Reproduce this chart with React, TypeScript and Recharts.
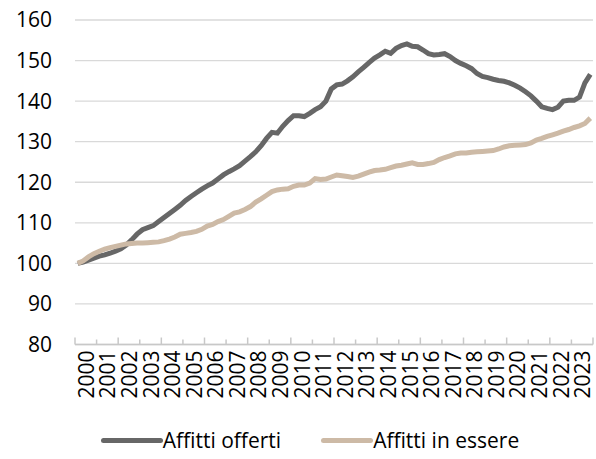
import { LineChart, Line, XAxis, YAxis, CartesianGrid, Legend } from 'recharts'

// quarterly index values, 2000 = 100
const offerti = [
  100, 100.3, 100.8, 101.3, 101.8, 102.1, 102.5, 103.0,
  103.6, 104.5, 105.8, 107.2, 108.3, 108.8, 109.3, 110.3,
  111.3, 112.3, 113.3, 114.3, 115.5, 116.5, 117.4, 118.3,
  119.1, 119.8, 120.8, 121.8, 122.6, 123.3, 124.1, 125.2,
  126.3, 127.5, 129.0, 130.8, 132.3, 132.1, 133.8, 135.2,
  136.4, 136.4, 136.2, 137.0, 137.9, 138.6, 140.0, 143.0,
  144.0, 144.2, 145.0, 146.0, 147.2, 148.3, 149.5, 150.6,
  151.4, 152.3, 151.8, 153.0, 153.7, 154.1, 153.5, 153.4,
  152.6, 151.7, 151.4, 151.5, 151.7, 151.0, 150.0, 149.3,
  148.7, 148.0, 146.8, 146.1, 145.8, 145.4, 145.1, 144.9,
  144.5, 143.9, 143.2, 142.3, 141.3, 140.0, 138.6, 138.2,
  137.9, 138.5, 140.0, 140.2, 140.2, 141.0, 144.5, 146.6
]

const essere = [
  100, 100.6, 101.6, 102.4, 103.0, 103.5, 103.9, 104.2,
  104.5, 104.8, 104.9, 105.0, 105.0, 105.1, 105.2, 105.3,
  105.6, 106.0, 106.5, 107.2, 107.4, 107.6, 107.9, 108.4,
  109.2, 109.6, 110.3, 110.8, 111.6, 112.4, 112.7, 113.3,
  114.0, 115.1, 115.9, 116.8, 117.7, 118.1, 118.3, 118.4,
  119.0, 119.3, 119.3, 119.8, 120.9, 120.7, 120.8, 121.3,
  121.8, 121.6, 121.4, 121.2, 121.5, 122.0, 122.5, 122.9,
  123.0, 123.2, 123.6, 124.0, 124.2, 124.5, 124.8, 124.4,
  124.4, 124.6, 124.9, 125.6, 126.1, 126.5, 127.0, 127.2,
  127.2, 127.4, 127.5, 127.6, 127.7, 127.8, 128.2, 128.7,
  129.0, 129.1, 129.2, 129.3, 129.7, 130.4, 130.8, 131.3,
  131.7, 132.1, 132.6, 133.0, 133.5, 133.9, 134.5, 135.8
]

const years = Array.from({ length: 24 }, (_, i) => 2000 + i)
const yTicks = [80, 90, 100, 110, 120, 130, 140, 150, 160]

const DARK = '#676767'
const BEIGE = '#cdbaa6'
const GRID = '#d9d9d9'
const FONT = '"Open Sans", sans-serif'

const data = offerti.map((v, i) => ({
  t: 2000 + (i + 0.5) / 4,
  offerti: v,
  essere: essere[i]
}))

const boundaryTicks = [...years, 2024]
const labelTicks = years.map((y) => y + 0.5)

// small upward tick mark at each year boundary
function TickMark(props: any) {
  const { x, y, payload } = props
  const len = payload.value % 2 === 0 ? 7 : 5
  return <line x1={x} x2={x} y1={y} y2={y - len} stroke="#c8c8c8" strokeWidth={1.5} />
}

function YearLabel(props: any) {
  const { x, y, payload } = props
  return (
    <text
      x={x}
      y={y}
      transform={`rotate(-90, ${x}, ${y})`}
      textAnchor="end"
      dominantBaseline="central"
      fontSize={21}
      fontFamily={FONT}
      fill="#000"
    >
      {Math.floor(payload.value)}
    </text>
  )
}

const legendItems = [
  { name: 'Affitti offerti', color: DARK, w: 62 },
  { name: 'Affitti in essere', color: BEIGE, w: 52 }
]

function ChartLegend() {
  return (
    <div style={{ display: 'flex', justifyContent: 'center', gap: 40, paddingLeft: 24, fontFamily: FONT, fontSize: 21, color: '#000' }}>
      {legendItems.map((it) => (
        <div key={it.name} style={{ display: 'flex', alignItems: 'center' }}>
          <span style={{ display: 'inline-block', width: it.w, height: 5, borderRadius: 3, background: it.color }} />
          <span>{it.name}</span>
        </div>
      ))}
    </div>
  )
}

export default function App() {
  return (
    <div style={{ position: 'absolute', left: 0, top: 0, width: 596, height: 459, background: '#fff' }}>
      <LineChart width={596} height={459} data={data} margin={{ top: 20, right: 3, left: 0, bottom: 34.5 }}>
        <CartesianGrid vertical={false} stroke={GRID} strokeWidth={1.3} />
        <XAxis
          dataKey="t"
          type="number"
          domain={[2000, 2024]}
          ticks={boundaryTicks}
          interval={0}
          height={20}
          tickSize={0}
          tickMargin={0}
          tickLine={false}
          axisLine={{ stroke: '#c8c8c8', strokeWidth: 1.3 }}
          tick={<TickMark />}
        />
        <XAxis
          xAxisId="lab"
          dataKey="t"
          type="number"
          domain={[2000, 2024]}
          ticks={labelTicks}
          interval={0}
          height={60}
          tickSize={0}
          tickMargin={-14}
          tickLine={false}
          axisLine={false}
          tick={<YearLabel />}
        />
        <YAxis
          domain={[80, 160]}
          ticks={yTicks}
          interval={0}
          width={75}
          axisLine={false}
          tickLine={false}
          tickMargin={17}
          tick={{ fontSize: 21, fontFamily: FONT, fill: '#000' }}
        />
        <Legend
          verticalAlign="middle"
          align="center"
          wrapperStyle={{ top: 426, left: 0, width: 596 }}
          content={<ChartLegend />}
        />
        <Line
          type="linear"
          dataKey="offerti"
          name="Affitti offerti"
          stroke={DARK}
          strokeWidth={5}
          dot={false}
          isAnimationActive={false}
        />
        <Line
          type="linear"
          dataKey="essere"
          name="Affitti in essere"
          stroke={BEIGE}
          strokeWidth={5}
          dot={false}
          isAnimationActive={false}
        />
      </LineChart>
    </div>
  )
}
